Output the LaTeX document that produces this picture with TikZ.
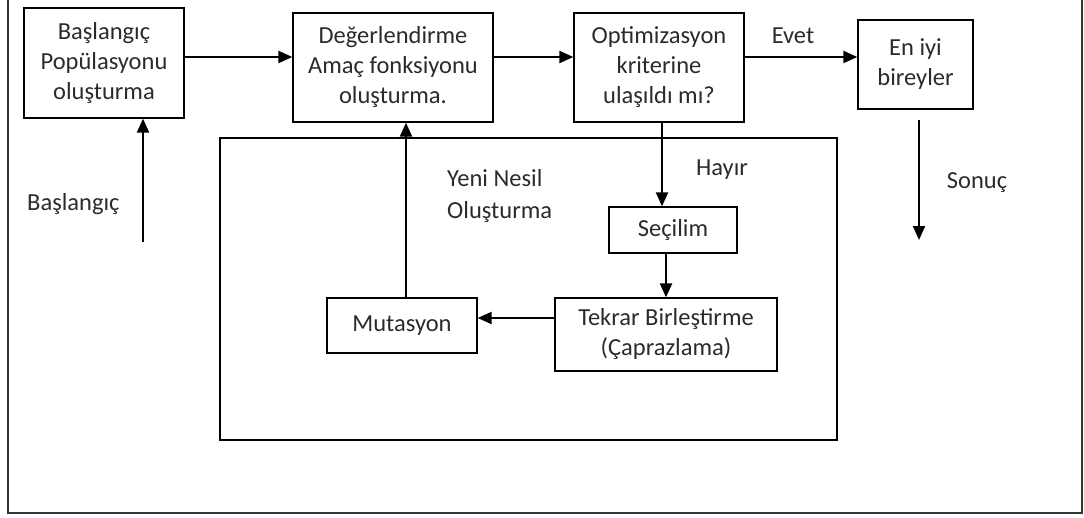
\documentclass[tikz,border=0pt]{standalone}
\usepackage{fontspec}
\setmainfont{Carlito}
\usetikzlibrary{arrows.meta}
\definecolor{txt}{HTML}{2B2B2B}
\begin{document}
\begin{tikzpicture}[x=1pt,y=-1pt,
  box/.style={draw=black,line width=1.3pt,text=txt,align=center,inner sep=0pt,
    font=\fontsize{24.5}{30}\selectfont},
  lbl/.style={text=txt,inner sep=0pt,font=\fontsize{24.5}{32}\selectfont},
  arr/.style={line width=2.2pt,-{Triangle[length=14pt,width=12pt]}},
  frame/.style={line width=1.3pt}]
\useasboundingbox (0,0) rectangle (1084,517);
% outer frame (top edge outside picture)
\draw[frame,draw=black!80] (8,-5) -- (8,513) -- (1082,513) -- (1082,-5);
% inner frame
\draw[frame] (220,138) rectangle (837,440);
% boxes
\node[box,minimum width=160pt,minimum height=110pt] (init) at (104,63) {Başlangıç\\Popülasyonu\\oluşturma};
\node[box,minimum width=200pt,minimum height=109pt] (eval) at (393,67.5) {Değerlendirme\\Amaç fonksiyonu\\oluşturma.};
\node[box,minimum width=170pt,minimum height=109pt] (opt) at (659,67.5) {Optimizasyon\\kriterine\\ulaşıldı mı?};
\node[box,minimum width=115pt,minimum height=89pt] (best) at (915.5,64.5) {En iyi\\bireyler};
\node[box,minimum width=128pt,minimum height=46pt] (sec) at (673,230) {Seçilim};
\node[box,minimum width=222pt,minimum height=73pt] (tek) at (666,334.5) {Tekrar Birleştirme\\(Çaprazlama)};
\node[box,minimum width=150pt,minimum height=55pt] (mut) at (402,325.5) {Mutasyon};
% labels
\node[lbl,anchor=west] (lstart) at (27,204) {Başlangıç};
\node[lbl] (levet) at (793,36) {Evet};
\node[lbl] (lhayir) at (722,170) {Hayır};
\node[lbl] (lsonuc) at (977,183) {Sonuç};
\node[lbl,anchor=west,align=left] (lyeni) at (447,196) {Yeni Nesil\\Oluşturma};
% free ends
\coordinate (s0) at (143,242);
\coordinate (r0) at (919,120);
\coordinate (r1) at (919,240);
% connectors
\draw[arr] ([yshift=6pt]init.east) -- ([yshift=6pt]init.east -| eval.west);
\draw[arr] ([yshift=10.5pt]eval.east) -- ([yshift=10.5pt]eval.east -| opt.west);
\draw[arr] ([yshift=10.5pt]opt.east) -- ([yshift=10.5pt]opt.east -| best.west);
\draw[arr] ([xshift=3pt]opt.south) -- ([xshift=3pt]opt.south |- sec.north);
\draw[arr] (tek.north |- sec.south) -- (tek.north);
\draw[arr] ([yshift=7.5pt]mut.east -| tek.west) -- ([yshift=7.5pt]mut.east);
\draw[arr] ([xshift=4pt]mut.north) -- ([xshift=4pt]mut.north |- eval.south);
\draw[arr] (s0) -- (s0 |- init.south);
\draw[arr] (r0) -- (r1);
\end{tikzpicture}
\end{document}
